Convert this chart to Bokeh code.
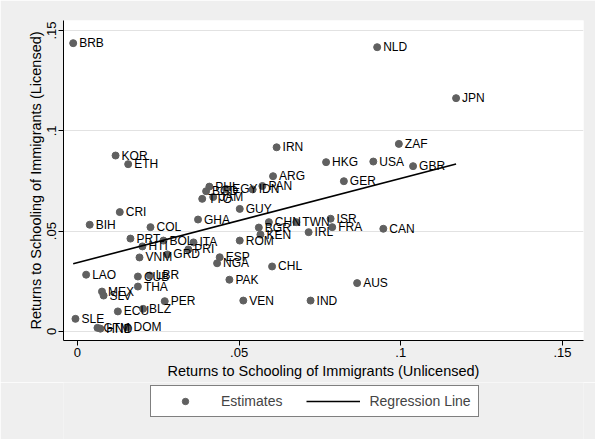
from bokeh.plotting import figure
from bokeh.models import Range1d, FixedTicker, Legend, LegendItem, ColumnDataSource
from bokeh.layouts import column
from bokeh.core.properties import value
from bokeh.embed import file_html
from bokeh.resources import INLINE

codes = ["BRB", "NLD", "JPN", "ZAF", "GBR", "CAN", "IRN", "HKG", "USA", "ARG",
         "GER", "PAN", "IDN", "EGY", "PHL", "BGD", "JAM", "TTO", "GUY", "GHA",
         "CRI", "BIH", "COL", "KOR", "ETH", "PRT", "HTI", "BOL", "ITA", "PRI",
         "GRD", "VNM", "ROM", "BGR", "KEN", "CHN", "TWN", "IRL", "ISR", "FRA",
         "ESP", "NGA", "CHL", "PAK", "VEN", "IND", "AUS", "LAO", "CUB", "LBR",
         "THA", "MEX", "SLV", "ECU", "BLZ", "PER", "SLE", "GTM", "HND", "DOM"]
unlicensed = [-0.0013, 0.0927, 0.1171, 0.0994, 0.1038, 0.0946, 0.0616, 0.0769, 0.0915, 0.0605,
              0.0824, 0.0572, 0.0542, 0.0460, 0.0408, 0.0398, 0.0420, 0.0386, 0.0502, 0.0373,
              0.0131, 0.0038, 0.0226, 0.0118, 0.0157, 0.0164, 0.0201, 0.0266, 0.0359, 0.0343,
              0.0278, 0.0192, 0.0502, 0.0561, 0.0566, 0.0592, 0.0677, 0.0715, 0.0783, 0.0788,
              0.0440, 0.0432, 0.0602, 0.0470, 0.0513, 0.0721, 0.0865, 0.0027, 0.0187, 0.0224,
              0.0187, 0.0076, 0.0081, 0.0125, 0.0203, 0.0270, -0.0006, 0.0062, 0.0071, 0.0155]
licensed = [0.1437, 0.1417, 0.1163, 0.0935, 0.0824, 0.0512, 0.0918, 0.0844, 0.0847, 0.0774,
            0.0749, 0.0725, 0.0708, 0.0710, 0.0722, 0.0699, 0.0670, 0.0661, 0.0611, 0.0558,
            0.0595, 0.0532, 0.0520, 0.0877, 0.0834, 0.0463, 0.0424, 0.0453, 0.0444, 0.0409,
            0.0384, 0.0369, 0.0453, 0.0518, 0.0483, 0.0545, 0.0545, 0.0495, 0.0562, 0.0520,
            0.0370, 0.0340, 0.0324, 0.0258, 0.0154, 0.0154, 0.0241, 0.0283, 0.0274, 0.0279,
            0.0224, 0.0199, 0.0179, 0.0100, 0.0113, 0.0151, 0.0063, 0.0018, 0.0014, 0.0021]

reg_intercept = 0.0343
reg_slope = 0.42

xticks = [0, 0.05, 0.1, 0.15]
xtick_labels = ["0", ".05", ".1", ".15"]
yticks = [0, 0.05, 0.1, 0.15]
ytick_labels = ["0", ".05", ".1", ".15"]

legend_labels = ["Estimates", "Regression Line"]

FONT = "Liberation Sans"
BG = "#EFEFEF"
DOT = "#606060"

p = figure(width=595, height=382, output_backend="svg", toolbar_location=None,
           x_range=Range1d(-0.0043, 0.1565), y_range=Range1d(-0.0045, 0.155),
           min_border_left=63, min_border_right=12, min_border_top=20, min_border_bottom=42)
p.background_fill_color = "white"
p.border_fill_color = BG
p.outline_line_color = None

src = ColumnDataSource(dict(x=unlicensed, y=licensed, code=codes))
x0 = min(unlicensed)
x1 = max(unlicensed)
reg_src = ColumnDataSource(dict(x=[x0, x1],
                                y=[reg_intercept + reg_slope * x0, reg_intercept + reg_slope * x1]))

p.scatter("x", "y", source=src, size=7, fill_color=DOT, line_color=DOT)
p.text("x", "y", text="code", source=src, x_offset=6, text_baseline="middle",
       text_font=value(FONT), text_font_size="12px", text_color="black")
p.line("x", "y", source=reg_src, line_color="black", line_width=1.6)

for ax, ticks, labels in ((p.xaxis[0], xticks, xtick_labels), (p.yaxis[0], yticks, ytick_labels)):
    ax.ticker = FixedTicker(ticks=ticks)
    ax.major_label_overrides = {t: l for t, l in zip(ticks, labels)}
    ax.minor_tick_line_color = None
    ax.major_tick_out = 5
    ax.major_tick_in = 0
    ax.axis_line_color = "black"
    ax.major_tick_line_color = "black"
    ax.major_label_text_font = FONT
    ax.major_label_text_font_size = "13px"
    ax.major_label_text_color = "black"
    ax.axis_label_text_font = FONT
    ax.axis_label_text_font_size = "14.5px"
    ax.axis_label_text_font_style = "normal"
    ax.axis_label_text_color = "black"
    ax.major_label_standoff = 2

p.xaxis.axis_label = "Returns to Schooling of Immigrants (Unlicensed)"
p.yaxis.axis_label = "Returns to Schooling of Immigrants (Licensed)"
p.xaxis.axis_label_standoff = 3
p.yaxis.axis_label_standoff = 1
p.yaxis.major_label_orientation = "vertical"

p.xgrid.grid_line_color = None
p.ygrid.ticker = FixedTicker(ticks=yticks)
p.ygrid.grid_line_color = "#E2E2E2"
p.ygrid.grid_line_width = 1

# legend strip below the chart (its data view is kept off-screen; only the legend shows)
lg = figure(width=595, height=57, output_backend="svg", toolbar_location=None,
            x_range=Range1d(0, 1), y_range=Range1d(5, 6),
            x_axis_location=None, y_axis_location=None,
            min_border_left=0, min_border_right=0, min_border_top=0, min_border_bottom=0)
lg.background_fill_color = BG
lg.border_fill_color = BG
lg.outline_line_color = None
lg.grid.grid_line_color = None
r_pts = lg.scatter("x", "y", source=src, size=7, fill_color=DOT, line_color=DOT)
r_line = lg.line("x", "y", source=reg_src, line_color="black", line_width=1.6)

legend = Legend(items=[LegendItem(label=legend_labels[0], renderers=[r_pts]),
                       LegendItem(label=legend_labels[1], renderers=[r_line])],
                orientation="horizontal", location=(87, 22))
legend.label_text_font = FONT
legend.label_text_font_size = "14px"
legend.glyph_width = 54
legend.glyph_height = 16
legend.spacing = 24
legend.padding = 7
legend.label_standoff = 9
legend.border_line_color = "black"
legend.border_line_width = 1
legend.background_fill_color = "white"
legend.background_fill_alpha = 1
legend.margin = 0
lg.add_layout(legend, "center")

layout = column(p, lg, spacing=0)
open("out.html", "w").write(file_html(layout, INLINE))
